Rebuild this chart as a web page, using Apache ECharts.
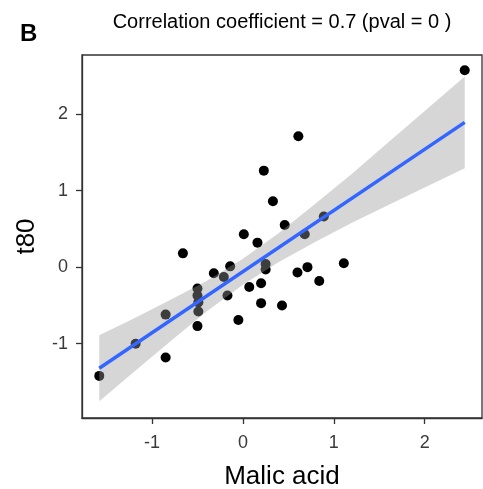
<!DOCTYPE html>
<html>
<head>
<meta charset="utf-8">
<script src="https://cdn.jsdelivr.net/npm/echarts@6/dist/echarts.min.js"></script>
<style>
html,body{margin:0;padding:0;background:#fff;}
#chart{width:483px;height:489px;}
</style>
</head>
<body>
<div id="chart"></div>
<script>
// Scatter data (Malic acid vs t80)
const malicAcid = [-1.58, -1.18, -0.85, -0.85, -0.66, -0.50, -0.50, -0.49, -0.49, -0.50,
  -0.32, -0.21, -0.14, -0.17, -0.05, 0.01, 0.07, 0.16, 0.20, 0.20,
  0.23, 0.25, 0.25, 0.33, 0.43, 0.46, 0.60, 0.61, 0.68, 0.71,
  0.84, 0.89, 1.11, 2.44];
const t80 = [-1.42, -1.00, -0.62, -1.18, 0.18, -0.28, -0.37, -0.46, -0.58, -0.77,
  -0.08, -0.13, 0.01, -0.37, -0.69, 0.43, -0.26, 0.32, -0.21, -0.47,
  1.26, 0.04, -0.03, 0.86, -0.50, 0.55, -0.07, 1.71, 0.43, 0.00,
  -0.18, 0.66, 0.05, 2.57];

// Regression line end points
const fitX = [-1.58, 2.44];
const fitY = [-1.32, 1.89];

// Confidence band (lower / upper) read at several x positions
const bandX = [-1.58, -1.2, -0.8, -0.4, 0, 0.4, 0.8, 1.2, 1.6, 2.0, 2.44];
const bandLow = [-1.75, -1.37, -0.97, -0.58, -0.23, 0.07, 0.33, 0.58, 0.81, 1.04, 1.29];
const bandHigh = [-0.89, -0.67, -0.43, -0.18, 0.11, 0.45, 0.83, 1.22, 1.63, 2.04, 2.49];

const xTicks = [-1, 0, 1, 2];
const yTicks = [-1, 0, 1, 2];
const xRange = [-1.77, 2.63];
const yRange = [-1.97, 2.77];

const titleText = 'Correlation coefficient = 0.7 (pval = 0 )';
const panelTag = 'B';
const xName = 'Malic acid';
const yName = 't80';

const FONT = '"Liberation Sans", Arial, sans-serif';

const scatterData = malicAcid.map((x, i) => [x, t80[i]]);
const lineData = fitX.map((x, i) => [x, fitY[i]]);
const bandData = bandX.map((x, i) => [x, bandLow[i], bandHigh[i]]);

const chart = echarts.init(document.getElementById('chart'), null, {renderer: 'canvas'});

const axisCommon = {
  type: 'value',
  splitLine: {show: false},
  axisLine: {show: true, onZero: false, lineStyle: {color: '#333', width: 1.3}},
  nameTextStyle: {fontFamily: FONT, fontSize: 26, color: '#000'},
  nameLocation: 'middle'
};

chart.setOption({
  animation: false,
  backgroundColor: '#fff',
  title: [
    {text: titleText, left: 282, top: 12, textAlign: 'center', padding: 0,
      textStyle: {fontFamily: FONT, fontSize: 20, fontWeight: 'normal', color: '#000'}},
    {text: panelTag, left: 20, top: 22, padding: 0,
      textStyle: {fontFamily: FONT, fontSize: 24, fontWeight: 'bold', color: '#000'}}
  ],
  grid: {left: 82, right: 1, top: 55, bottom: 71, show: true, borderColor: '#333', borderWidth: 1.3,
    backgroundColor: '#fff', containLabel: false, outerBoundsMode: 'none'},
  xAxis: Object.assign({}, axisCommon, {
    min: xRange[0], max: xRange[1],
    name: xName, nameGap: 46,
    axisTick: {show: true, length: 6, customValues: xTicks, lineStyle: {color: '#333', width: 1.3}},
    axisLabel: {customValues: xTicks, margin: 16, fontFamily: FONT, fontSize: 18, color: '#3a3a3a'}
  }),
  yAxis: Object.assign({}, axisCommon, {
    min: yRange[0], max: yRange[1],
    name: yName, nameGap: 42,
    axisTick: {show: true, length: 6, customValues: yTicks, lineStyle: {color: '#333', width: 1.3}},
    axisLabel: {customValues: yTicks, margin: 14, fontFamily: FONT, fontSize: 18, color: '#3a3a3a'}
  }),
  series: [
    {
      type: 'scatter',
      data: scatterData,
      symbol: 'circle',
      symbolSize: 10,
      itemStyle: {color: '#000', opacity: 1},
      emphasis: {disabled: true},
      z: 2
    },
    {
      type: 'custom',
      data: bandData,
      z: 3,
      silent: true,
      renderItem: function (params, api) {
        if (params.dataIndex !== 0) return null;
        const pts = [];
        for (let i = 0; i < bandData.length; i++) pts.push(api.coord([bandData[i][0], bandData[i][2]]));
        for (let i = bandData.length - 1; i >= 0; i--) pts.push(api.coord([bandData[i][0], bandData[i][1]]));
        return {
          type: 'polygon',
          shape: {points: pts},
          style: {fill: 'rgba(153,153,153,0.4)', stroke: null}
        };
      }
    },
    {
      type: 'line',
      data: lineData,
      symbol: 'none',
      lineStyle: {color: '#3366FF', width: 3.5},
      z: 4
    }
  ]
});
</script>
</body>
</html>
